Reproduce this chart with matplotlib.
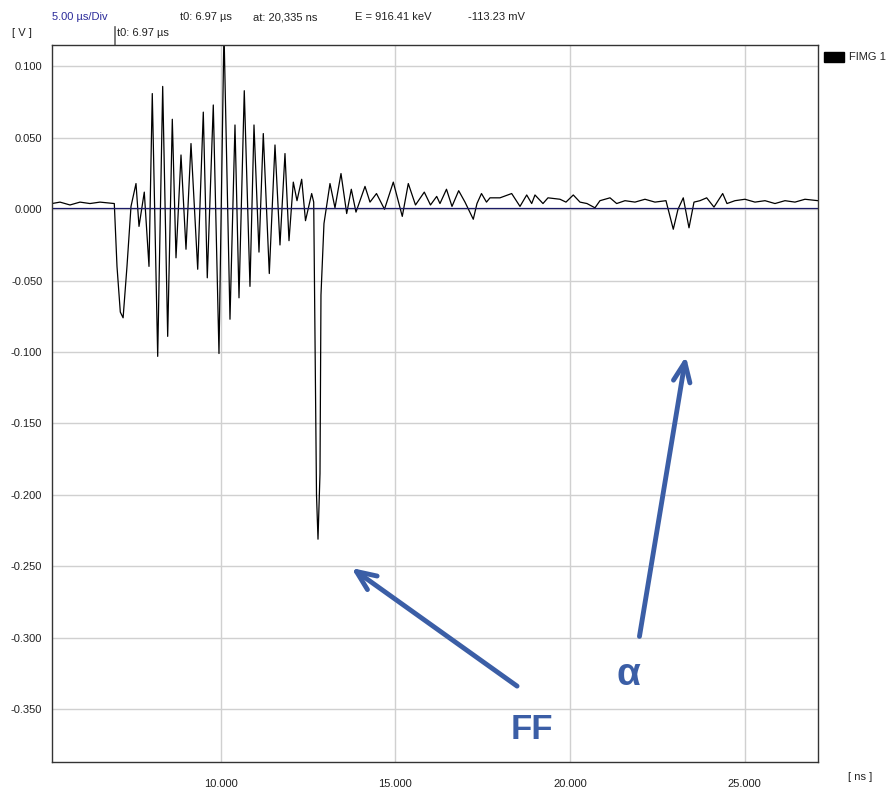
import matplotlib
matplotlib.use("Agg")
import matplotlib.pyplot as plt
import matplotlib.transforms as mtransforms
from matplotlib.ticker import FuncFormatter

plt.rcParams['font.family'] = ['Liberation Sans', 'DejaVu Sans']

# Waveform: time [ns], signal [V]
time_ns = [
    5175, 5404, 5690, 5976, 6262, 6548, 6958,
    7035, 7130, 7210, 7321, 7436, 7579, 7665, 7816, 7951, 8045, 8200, 8343, 8486, 8618, 8724,
    8867, 9010, 9153, 9345, 9505, 9619, 9791, 9954, 10097, 10269, 10412,
    10527, 10678, 10841, 10956, 11099, 11222, 11394, 11557, 11700, 11843,
    11958, 12081, 12187, 12321, 12430, 12607, 12665, 12745, 12788, 12845,
    12873, 12959, 13131, 13274, 13446, 13609, 13741, 13875, 14133, 14276,
    14462, 14691, 14943, 15200, 15372, 15578, 15830, 16007, 16185, 16279,
    16465, 16623, 16814, 16995, 17232, 17338, 17467, 17610, 17710, 17996,
    18331, 18569, 18761, 18904, 18998, 19227, 19370, 19714, 19885, 20094,
    20286, 20486, 20715, 20858, 21145, 21336, 21574, 21860, 22146, 22432,
    22747, 22956, 23091, 23242, 23406, 23549, 23720, 23912, 24121, 24370,
    24493, 24722, 25008, 25294, 25581, 25867, 26153, 26439, 26725, 27098,
]
signal_v = [
    0.004, 0.005, 0.003, 0.005, 0.004, 0.005, 0.004,
    -0.040, -0.072, -0.076, -0.040, 0.002, 0.018, -0.012, 0.012, -0.040, 0.081, -0.103, 0.086, -0.089, 0.063, -0.034,
    0.038, -0.028, 0.046, -0.042, 0.068, -0.048, 0.073, -0.101, 0.125, -0.077, 0.059,
    -0.062, 0.083, -0.054, 0.059, -0.030, 0.053, -0.045, 0.045, -0.025, 0.039,
    -0.022, 0.019, 0.006, 0.021, -0.008, 0.011, 0.005, -0.200, -0.231, -0.185,
    -0.060, -0.010, 0.018, 0.001, 0.025, -0.003, 0.014, -0.002, 0.016, 0.005,
    0.011, 0.000, 0.019, -0.005, 0.018, 0.003, 0.012, 0.003, 0.009, 0.004,
    0.014, 0.002, 0.013, 0.005, -0.007, 0.004, 0.011, 0.005, 0.008, 0.008,
    0.011, 0.002, 0.010, 0.004, 0.010, 0.004, 0.008, 0.007, 0.005, 0.010,
    0.005, 0.004, 0.001, 0.006, 0.008, 0.004, 0.006, 0.005, 0.007, 0.005,
    0.006, -0.014, 0.000, 0.008, -0.013, 0.005, 0.006, 0.008, 0.0015, 0.011,
    0.004, 0.006, 0.007, 0.005, 0.006, 0.004, 0.006, 0.005, 0.007, 0.006,
]

y_ticks = [0.10, 0.05, 0.0, -0.05, -0.10, -0.15, -0.20, -0.25, -0.30, -0.35]
x_ticks = [10000, 15000, 20000, 25000]
t0_ns = 6970

header_items = [
    ("5.00 µs/Div", 52, "#2b2b9a"),
    ("t0: 6.97 µs", 180, "#222222"),
    ("at: 20,335 ns", 253, "#222222"),
    ("E = 916.41 keV", 355, "#222222"),
    ("-113.23 mV", 468, "#222222"),
]

W, H = 892, 787
fig = plt.figure(figsize=(W / 100, H / 100), dpi=100)
ax = fig.add_axes([52 / W, (H - 762) / H, 766 / W, 717 / H])

ax.plot(time_ns, signal_v, color="black", lw=0.9)
ax.axhline(0.001, color="#1a1a66", lw=0.9)

ax.set_xlim(5175, 27098)
ax.set_ylim(-0.387, 0.115)
ax.set_xticks(x_ticks)
ax.set_yticks(y_ticks)
ax.xaxis.set_major_formatter(FuncFormatter(lambda v, p: f"{v:,.0f}"))
ax.yaxis.set_major_formatter(FuncFormatter(lambda v, p: f"{v:.3f}"))
ax.tick_params(length=0, labelsize=8, colors="#222222")
ax.tick_params(axis="x", pad=12)
ax.tick_params(axis="y", pad=7)
ax.grid(True, color="#d0d0d0", lw=1)
ax.set_axisbelow(True)
for s in ax.spines.values():
    s.set_color("#333333")
    s.set_linewidth(1)

# header texts
for txt, px, col in header_items:
    fig.text(px / W, 1 - 17 / H, txt, fontsize=8, color=col, va="center", ha="left")
fig.text(12 / W, 1 - 33 / H, "[ V ]", fontsize=8, color="#222222", va="center")
fig.text(117 / W, 1 - 33 / H, "t0: 6.97 µs", fontsize=8, color="#222222", va="center")
trans = mtransforms.blended_transform_factory(ax.transData, ax.transAxes)
ax.plot([t0_ns, t0_ns], [1.0, 1.025], transform=trans, color="#666666", lw=1.2, clip_on=False)
fig.text(848 / W, 1 - 777 / H, "[ ns ]", fontsize=8, color="#222222", va="center")

# legend
fig.patches.append(plt.Rectangle((824 / W, 1 - 62 / H), 20 / W, 10 / H,
                                 transform=fig.transFigure, color="black"))
fig.text(849 / W, 1 - 57 / H, "FIMG 1", fontsize=8, color="#222222", va="center")

# annotations
blue = "#3b5ea6"
ax.annotate("", xy=(13680, -0.250), xytext=(18550, -0.335),
            arrowprops=dict(arrowstyle="->,head_length=1.4,head_width=0.6",
                            color=blue, lw=3.5))
ax.annotate("", xy=(23330, -0.101), xytext=(21975, -0.301),
            arrowprops=dict(arrowstyle="->,head_length=1.4,head_width=0.6",
                            color=blue, lw=3.5))
ax.text(18900, -0.364, "FF", color=blue, fontsize=25, fontweight="bold",
        ha="center", va="center")
ax.text(21680, -0.326, "α", color=blue, fontsize=28, fontweight="bold",
        ha="center", va="center")

fig.savefig("out.png", dpi=100, facecolor="white")
